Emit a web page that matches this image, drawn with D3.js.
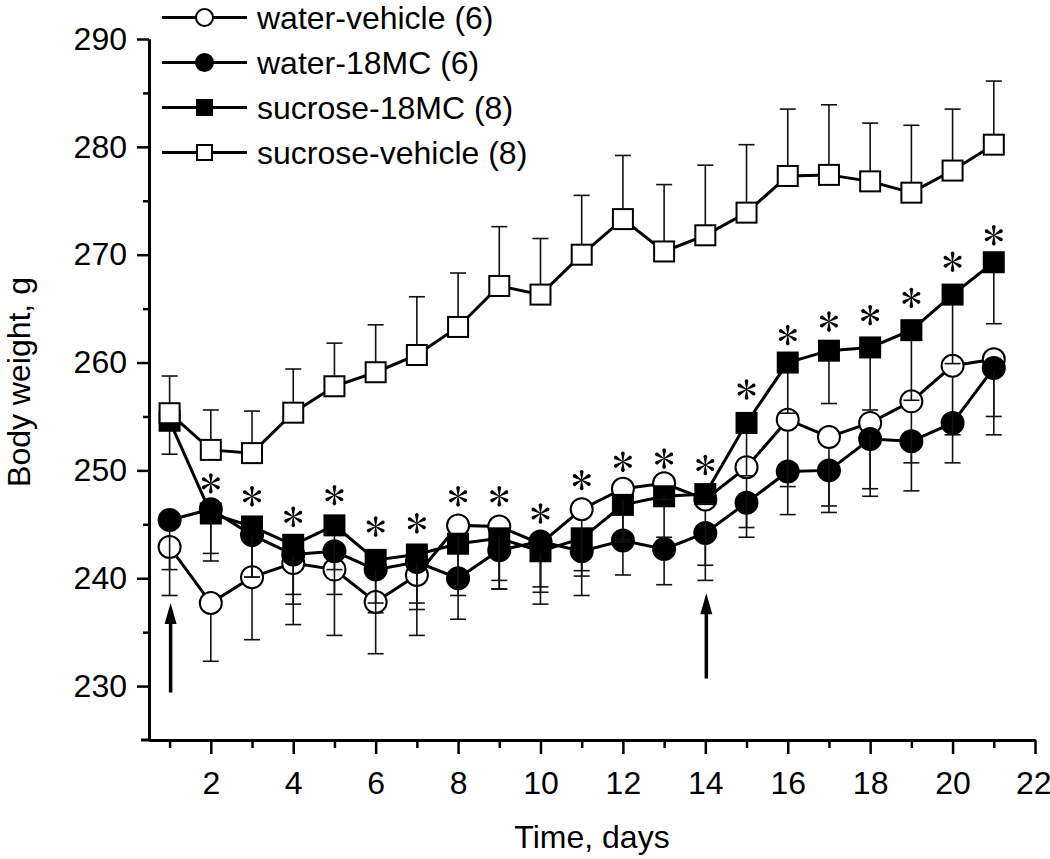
<!DOCTYPE html>
<html><head><meta charset="utf-8">
<script src="https://cdn.jsdelivr.net/npm/d3@7"></script>
<style>
body{margin:0;background:#fff}
text{font-family:"Liberation Sans",Arial,Helvetica,sans-serif;fill:#000}
</style>
</head><body>
<svg id="chart" width="1050" height="859"></svg>
<script>
// ---------------- data ----------------
const days = [1,2,3,4,5,6,7,8,9,10,11,12,13,14,15,16,17,18,19,20,21];

const waterVehicle    = [242.9,237.7,240.1,241.4,240.8,237.8,240.3,244.9,244.8,243.2,246.4,248.3,248.8,247.3,250.3,254.7,253.1,254.4,256.4,259.7,260.3];
const waterVehicleSEM = [4.5,5.4,5.8,5.7,6.1,4.8,5.6,5.6,5.8,5.6,8.0,4.7,1.5,6.1,5.6,6.2,7.0,6.1,8.3,6.4,5.3];

const water18MC       = [245.4,246.4,244.0,242.2,242.5,240.8,241.5,240.0,242.6,243.4,242.5,243.5,242.7,244.2,247.0,249.9,250.0,252.9,252.7,254.4,259.5];
const water18MCSEM    = [4.6,4.1,3.9,4.6,4.0,4.0,4.4,3.8,3.6,4.7,2.3,3.2,3.3,4.4,3.2,4.0,3.3,5.3,2.0,3.7,6.2];

const sucrose18MC     = [254.6,246.0,244.8,243.1,244.9,241.7,242.2,243.2,243.7,242.5,243.7,246.8,247.6,247.8,254.4,260.0,261.1,261.4,263.0,266.3,269.3];
const sucrose18MCSEM  = [3.1,4.4,4.7,4.6,4.1,4.0,4.5,4.8,3.9,3.3,3.0,3.4,3.8,0.9,4.9,4.7,4.9,5.8,6.5,6.4,5.7];

const sucroseVehicle  = [255.3,251.9,251.6,255.35,257.8,259.1,260.7,263.3,267.1,266.3,270.0,273.3,270.3,271.8,273.9,277.3,277.4,276.8,275.75,277.8,280.2];
const sucroseVehicleSEM = [3.45,3.7,3.9,4.05,4.0,4.4,5.4,5.0,5.5,5.2,5.5,5.9,6.2,6.5,6.3,6.2,6.5,5.4,6.25,5.7,5.9];

const seriesNames = ["water-vehicle (6)","water-18MC (6)","sucrose-18MC (8)","sucrose-vehicle (8)"];

const yTicks = [230,240,250,260,270,280,290];
const yMinorTicks = [235,245,255,265,275,285];
const xTicks = [2,4,6,8,10,12,14,16,18,20,22];
const xMinorTicks = [1,3,5,7,9,11,13,15,17,19,21];

const asteriskDays   = [2,3,4,5,6,7,8,9,10,11,12,13,14,15,16,17,18,19,20,21];
const asteriskLevels = [248.8,247.6,245.7,247.7,244.8,245.1,247.6,247.6,246.0,249.1,250.8,251.1,250.5,257.5,262.55,263.8,264.4,266.0,269.35,271.8];

const arrowDays  = [1,14];
const arrowTips  = [237.7,238.6];
const arrowTails = [229.4,230.7];

// ---------------- setup ----------------
const svg = d3.select("#chart");
const x = d3.scaleLinear().domain([0.5,22]).range([149,1035]);
const y = d3.scaleLinear().domain([225,290]).range([740,39]);

// series definitions (legend order) ; errDir -1 = downward bar, +1 = upward bar
const series = [
  {name:seriesNames[0], vals:waterVehicle,   sem:waterVehicleSEM,   shape:"circle", fill:"#fff", errDir:-1},
  {name:seriesNames[1], vals:water18MC,      sem:water18MCSEM,      shape:"circle", fill:"#000", errDir:-1},
  {name:seriesNames[2], vals:sucrose18MC,    sem:sucrose18MCSEM,    shape:"square", fill:"#000", errDir:-1},
  {name:seriesNames[3], vals:sucroseVehicle, sem:sucroseVehicleSEM, shape:"square", fill:"#fff", errDir:+1}
];
const drawOrder = [0,2,1,3];
const R = 11, HS = 10;

// ---------------- axes ----------------
const yAxis = svg.append("g").attr("transform","translate(149,0)")
  .call(d3.axisLeft(y).tickValues(yTicks).tickSize(12).tickSizeOuter(0).tickPadding(10).tickFormat(d3.format("d")));
const yMinor = svg.append("g").attr("transform","translate(149,0)")
  .call(d3.axisLeft(y).tickValues(yMinorTicks).tickSize(6).tickSizeOuter(0).tickFormat(""));
const xAxis = svg.append("g").attr("transform","translate(0,740)")
  .call(d3.axisBottom(x).tickValues(xTicks).tickSize(14).tickSizeOuter(0).tickPadding(17).tickFormat(d3.format("d")));
const xMinor = svg.append("g").attr("transform","translate(0,740)")
  .call(d3.axisBottom(x).tickValues(xMinorTicks).tickSize(8).tickSizeOuter(0).tickFormat(""));
[yAxis,yMinor,xAxis,xMinor].forEach(g=>{
  g.select(".domain").attr("stroke","#000").attr("stroke-width",3);
  g.selectAll(".tick line").attr("stroke","#000").attr("stroke-width",2.5);
  g.selectAll(".tick text").attr("font-size",32).attr("font-family","'Liberation Sans',Arial,sans-serif");
});
// keep the last x label inside the window
xAxis.selectAll(".tick text").filter(d=>d===22).attr("text-anchor","end").attr("dx",16);
// small extension of x axis to the left of y axis
svg.append("line").attr("x1",141).attr("x2",150).attr("y1",740).attr("y2",740)
  .attr("stroke","#000").attr("stroke-width",3);

svg.append("text").attr("x",(x.range()[0]+x.range()[1])/2).attr("y",848)
  .attr("text-anchor","middle").attr("font-size",32).text("Time, days");
svg.append("text").attr("transform","translate(30,382) rotate(-90)")
  .attr("text-anchor","middle").attr("font-size",32).text("Body weight, g");

// ---------------- series ----------------
const line = d3.line().x((d,i)=>x(days[i])).y(d=>y(d));
function marker(g, shape, fill, cx, cy, r, hs){
  if(shape==="circle"){
    g.append("circle").attr("cx",cx).attr("cy",cy).attr("r",r)
      .attr("fill",fill).attr("stroke","#000").attr("stroke-width",2);
  } else {
    g.append("rect").attr("x",cx-hs).attr("y",cy-hs).attr("width",2*hs).attr("height",2*hs)
      .attr("fill",fill).attr("stroke","#000").attr("stroke-width",2);
  }
}
const plot = svg.append("g");
drawOrder.forEach(si=>{
  const s = series[si];
  const g = plot.append("g");
  g.append("path").attr("d",line(s.vals)).attr("fill","none").attr("stroke","#000").attr("stroke-width",3);
  s.vals.forEach((v,i)=>marker(g,s.shape,s.fill,x(days[i]),y(v),R,HS));
});

// error bars (drawn on top, starting at marker edge)
const eb = svg.append("g").attr("stroke","#111").attr("stroke-width",1.6);
series.forEach(s=>{
  const half = s.shape==="circle" ? R : HS;
  s.vals.forEach((v,i)=>{
    const cx = x(days[i]);
    const endY = y(v + s.errDir*s.sem[i]);
    const edge = y(v) - s.errDir*half;
    const beyond = s.errDir<0 ? endY>edge : endY<edge;
    if(beyond) eb.append("line").attr("x1",cx).attr("x2",cx).attr("y1",edge).attr("y2",endY);
    eb.append("line").attr("x1",cx-8).attr("x2",cx+8).attr("y1",endY).attr("y2",endY);
  });
});

// asterisks: six slim teardrop petals
const petal = "M-0.35,0 L-1.6,-7.2 A1.9,1.9 0 1,1 1.6,-7.2 L0.35,0 Z";
asteriskDays.forEach((d,i)=>{
  const g = svg.append("g").attr("transform",`translate(${x(d)},${y(asteriskLevels[i])})`);
  [0,60,120,180,240,300].forEach(a=>{
    g.append("path").attr("d",petal).attr("transform",`rotate(${a})`).attr("fill","#000");
  });
});

// arrows
arrowDays.forEach((d,i)=>{
  const ax = x(d)+1, tip = y(arrowTips[i]), tail = y(arrowTails[i]);
  svg.append("line").attr("x1",ax).attr("x2",ax).attr("y1",tail).attr("y2",tip+18)
    .attr("stroke","#000").attr("stroke-width",3.5);
  svg.append("path").attr("d",`M${ax},${tip} L${ax-6},${tip+21} L${ax+6},${tip+21} Z`).attr("fill","#000");
});

// ---------------- legend ----------------
const leg = svg.append("g");
series.forEach((s,i)=>{
  const ly = 17.5 + i*45;
  leg.append("line").attr("x1",162).attr("x2",247).attr("y1",ly).attr("y2",ly)
    .attr("stroke","#000").attr("stroke-width",3);
  marker(leg,s.shape,s.fill,204.5,ly,8.5,7.5);
  leg.append("text").attr("x",257).attr("y",ly+11.5).attr("font-size",32).text(s.name);
});
</script>
</body></html>
